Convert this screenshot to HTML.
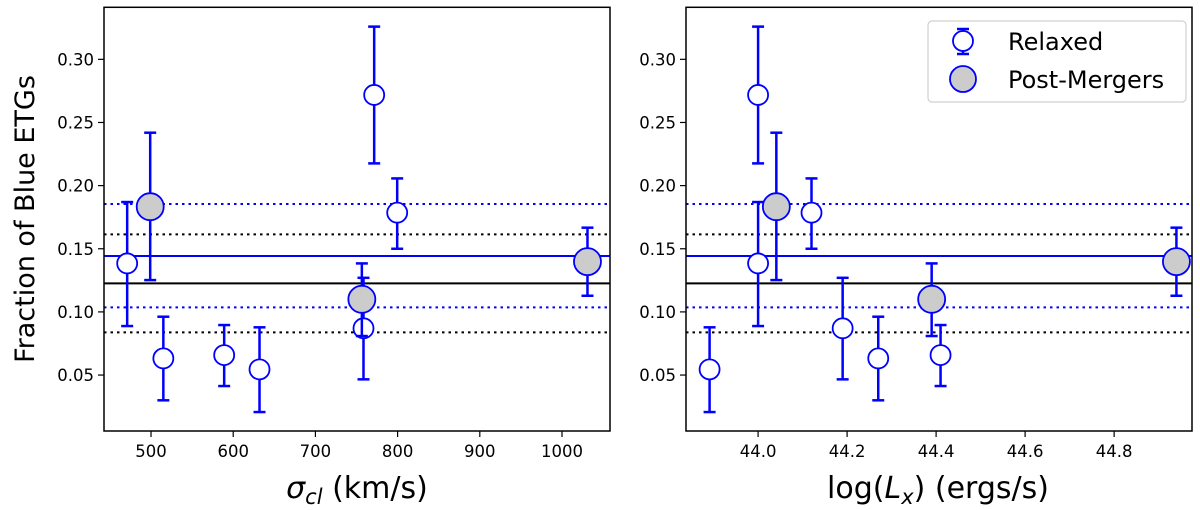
<!DOCTYPE html>
<html><head><meta charset="utf-8"><style>
body{margin:0;background:#fff;}
svg{display:block;font-family:"DejaVu Sans","Liberation Sans",sans-serif;}
</style></head><body>
<svg id="fig" width="1200" height="510" viewBox="0 0 1200 510"></svg>
<script>
const sigma = [471, 515, 589, 632, 758.5, 771.5, 799.5];
const lx = [44.0, 44.27, 44.41, 43.891, 44.19, 44.0, 44.12];
const relaxedFrac = [0.1384, 0.0632, 0.0658, 0.0545, 0.0870, 0.2718, 0.1786];
const relaxedHi = [0.187, 0.0962, 0.0896, 0.0878, 0.127, 0.3259, 0.2057];
const relaxedLo = [0.0888, 0.030, 0.0413, 0.0207, 0.0466, 0.2176, 0.150];
const pmSigma = [499, 756.5, 1031];
const pmLx = [44.041, 44.39, 44.94];
const pmFrac = [0.1833, 0.110, 0.1398];
const pmHi = [0.2419, 0.1384, 0.1667];
const pmLo = [0.1252, 0.0809, 0.1128];
const blueMean = 0.1443, blueBand = [0.1854, 0.1036];
const blackMean = 0.1226, blackBand = [0.1614, 0.0838];
const yTicks = [0.05, 0.10, 0.15, 0.20, 0.25, 0.30];
const xTicksL = [500, 600, 700, 800, 900, 1000];
const xTicksR = [44.0, 44.2, 44.4, 44.6, 44.8];

const NS = "http://www.w3.org/2000/svg";
const svgRoot = document.getElementById('fig');
function el(tag, attrs, parent){const e=document.createElementNS(NS,tag);for(const k in attrs)e.setAttribute(k,attrs[k]);(parent||svgRoot).appendChild(e);return e;}
const plotTop=7.3, plotBot=431, yMin=0.0057, yMax=0.3412;
const Y = v => plotBot - (v - yMin)/(yMax - yMin)*(plotBot-plotTop);

function panel(name, x0, x1, xmin, xmax, xs, pxs, ticks, fmt){
  const g = el('g', {});
  
  
  const X = v => x0 + (v - xmin)/(xmax - xmin)*(x1-x0);
  const clip = el('clipPath', {id:'c'+name}, g);
  el('rect',{x:x0,y:plotTop,width:x1-x0,height:plotBot-plotTop},clip);
  const inner = el('g',{'clip-path':'url(#c'+name+')'},g);
  function hline(v,color,dash,nm){
    const l=el('line',{x1:x0,x2:x1,y1:Y(v),y2:Y(v),stroke:color,'stroke-width':2,'stroke-dasharray':dash||'none'},inner);
    
    
  }
  hline(blueBand[0],'#0000ff','2.5 4','blue-upper-band');
  hline(blueBand[1],'#0000ff','2.5 4','blue-lower-band');
  hline(blackBand[0],'#000','2.5 4','black-upper-band');
  hline(blackBand[1],'#000','2.5 4','black-lower-band');
  hline(blueMean,'#0000ff','','blue-mean-line');
  hline(blackMean,'#000','','black-mean-line');
  function pts(xv, f, hi, lo, r, fill, nm){
    for(let i=0;i<xv.length;i++){
      const cx=X(xv[i]);
      const eg=el('g',{},inner);
      
      
      el('line',{x1:cx,x2:cx,y1:Y(hi[i]),y2:Y(lo[i]),stroke:'#0000ff','stroke-width':2.5},eg);
      el('line',{x1:cx-6,x2:cx+6,y1:Y(hi[i]),y2:Y(hi[i]),stroke:'#0000ff','stroke-width':2.5},eg);
      el('line',{x1:cx-6,x2:cx+6,y1:Y(lo[i]),y2:Y(lo[i]),stroke:'#0000ff','stroke-width':2.5},eg);
      const c=el('circle',{cx:cx,cy:Y(f[i]),r:r,fill:fill,stroke:'#0000ff','stroke-width':1.8},inner);
      
      
    }
  }
  pts(xs, relaxedFrac, relaxedHi, relaxedLo, 10, '#fff', 'relaxed');
  pts(pxs, pmFrac, pmHi, pmLo, 13.5, '#cccccc', 'post-merger');
  el('rect',{x:x0,y:plotTop,width:x1-x0,height:plotBot-plotTop,fill:'none',stroke:'#000','stroke-width':1.5},g);
  ticks.forEach(t=>{
    el('line',{x1:X(t),x2:X(t),y1:plotBot,y2:plotBot+6,stroke:'#000','stroke-width':1.2},g);
    const tx=el('text',{x:X(t),y:plotBot+26,'text-anchor':'middle','font-size':16.5},g);
    tx.textContent=fmt(t);
    
    
  });
  yTicks.forEach(t=>{
    el('line',{x1:x0-6,x2:x0,y1:Y(t),y2:Y(t),stroke:'#000','stroke-width':1.2},g);
    const tx=el('text',{x:x0-10,y:Y(t)+6,'text-anchor':'end','font-size':16.5},g);
    tx.textContent=t.toFixed(2);
    
    
  });
}
panel('sigma-panel',104,610,442.8,1058.4,sigma,pmSigma,xTicksL,t=>String(t));
panel('lx-panel',686,1192,43.838,44.975,lx,pmLx,xTicksR,t=>t.toFixed(1));
</script>
<svg width="1200" height="510" style="position:absolute;left:0;top:0;font-family:'DejaVu Sans','Liberation Sans',sans-serif;">
<text x="34" y="219" transform="rotate(-90 34 219)" text-anchor="middle" font-size="27">Fraction of Blue ETGs</text>
<text x="357" y="498" text-anchor="middle" font-size="30"><tspan font-style="italic">σ</tspan><tspan font-style="italic" font-size="21" dy="6">cl</tspan><tspan dy="-6"> (km/s)</tspan></text>
<text x="938" y="498" text-anchor="middle" font-size="30">log(<tspan font-style="italic">L</tspan><tspan font-style="italic" font-size="21" dy="6">x</tspan><tspan dy="-6">) (ergs/s)</tspan></text>
<g>
<rect x="928" y="21" width="258" height="81" rx="4" fill="#fff" stroke="#d0d0d0" stroke-width="1.2"/>
<line x1="963" y1="29" x2="963" y2="54" stroke="#0000ff" stroke-width="2.5"/>
<line x1="957" y1="29" x2="969" y2="29" stroke="#0000ff" stroke-width="2.5"/>
<line x1="957" y1="54" x2="969" y2="54" stroke="#0000ff" stroke-width="2.5"/>
<circle cx="963" cy="41" r="10" fill="#fff" stroke="#0000ff" stroke-width="1.8"/>
<text x="1008" y="50" font-size="24">Relaxed</text>
<circle cx="963" cy="79" r="13" fill="#cccccc" stroke="#0000ff" stroke-width="1.8"/>
<text x="1008" y="88" font-size="24">Post-Mergers</text>
</g>
</svg>
</body></html>
